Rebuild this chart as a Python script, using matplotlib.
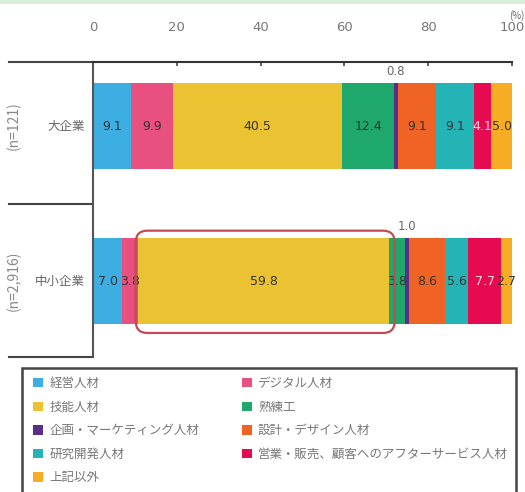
import matplotlib.pyplot as plt
from matplotlib.patches import FancyBboxPatch, Patch, Rectangle

plt.rcParams["font.family"] = ["Noto Sans CJK JP", "DejaVu Sans"]

categories = ["大企業", "中小企業"]
sample_sizes = ["(n=121)", "(n=2,916)"]
series_labels = [
    "経営人材",
    "デジタル人材",
    "技能人材",
    "熟練工",
    "企画・マーケティング人材",
    "設計・デザイン人材",
    "研究開発人材",
    "営業・販売、顧客へのアフターサービス人材",
    "上記以外",
]
large_values = [9.1, 9.9, 40.5, 12.4, 0.8, 9.1, 9.1, 4.1, 5.0]
small_values = [7.0, 3.8, 59.8, 3.8, 1.0, 8.6, 5.6, 7.7, 2.7]
x_ticks = [0, 20, 40, 60, 80, 100]

colors = ["#3DAEE2", "#E8507F", "#EBC332", "#1FA86C", "#5A2D87",
          "#EF6325", "#25B4B6", "#E60A50", "#F6AD24"]
label_colors = ["#333333"] * 7 + ["#FFD6E2", "#333333"]
outside_label = 4  # purple slice is too thin, its label sits above the bar

fig = plt.figure(figsize=(5.25, 4.92), dpi=100)
ax = fig.add_axes([93 / 525, 1 - 357 / 492, 419 / 525, 295 / 492])

bar_height = 0.56
rows = [large_values, small_values]
for row, values in enumerate(rows):
    left = 0
    for i, (value, color) in enumerate(zip(values, colors)):
        ax.barh(row, value, left=left, height=bar_height, color=color, linewidth=0)
        center = left + value / 2
        if i == outside_label:
            ax.text(center, row - bar_height / 2 - 0.03, f"{value:.1f}", ha="center",
                    va="bottom", fontsize=8.5, color="#666666",
                    family="DejaVu Sans")
        else:
            ax.text(center, row, f"{value:.1f}", ha="center", va="center",
                    fontsize=9, color=label_colors[i], family="DejaVu Sans")
        left += value

# highlight box round the 技能人材 slice of 中小企業
yellow_start = sum(small_values[:2])
aspect = (295 / 1.903) / (419 / 100)
ax.add_patch(FancyBboxPatch(
    (yellow_start - 0.6, 1 - bar_height / 2 - 0.045),
    small_values[2] + 2.0, bar_height + 0.1,
    boxstyle="round,pad=0,rounding_size=2.8", mutation_aspect=1 / aspect,
    facecolor="none", edgecolor="#C44A56", linewidth=1.6, zorder=5))

ax.set_xlim(0, 100)
ax.set_ylim(1.49, -0.413)
ax.set_xticks(x_ticks)
ax.set_xticklabels([str(t) for t in x_ticks], family="DejaVu Sans")
ax.xaxis.tick_top()
ax.tick_params(axis="x", direction="in", length=3, width=1.2, pad=20,
               labelsize=9.5, colors="#444444", labelcolor="#777777")
ax.set_yticks([])
for side in ["right", "bottom"]:
    ax.spines[side].set_visible(False)
ax.spines["top"].set_color("#333333")
ax.spines["top"].set_linewidth(1.5)
ax.spines["left"].set_color("#555555")
ax.spines["left"].set_linewidth(1.5)

# group lines reaching out to the left of the axis
yt = ax.get_yaxis_transform()
for y in [-0.413, 0.5, 1.49]:
    ax.plot([-0.2, 0], [y, y], transform=yt, color="#444444", linewidth=1.5,
            clip_on=False)

for row, (name, n) in enumerate(zip(categories, sample_sizes)):
    ax.text(-0.02, row, name, transform=yt, ha="right", va="center",
            fontsize=9, color="#666666")
    ax.text(-0.19, row, n, transform=yt, ha="center", va="center",
            fontsize=10, color="#888888", rotation=90)

ax.text(1.0, 1 - 10 / 492, "(%)", transform=fig.transFigure, ha="right",
        va="top", fontsize=7, color="#666666")

order = [0, 2, 4, 6, 8, 1, 3, 5, 7]
handles = [Patch(facecolor=colors[i], edgecolor="none") for i in order]
labels = [series_labels[i] for i in order]
fig.legend(handles, labels, ncol=2, loc="upper left",
           bbox_to_anchor=(33 / 525, 1 - 377 / 492),
           fontsize=9, frameon=False,
           handlelength=0.8, handleheight=0.8, handletextpad=0.5,
           labelspacing=0.85, borderaxespad=0, borderpad=0,
           columnspacing=3.4, labelcolor="#777777")
# legend frame runs off the bottom of the picture
fig.add_artist(Rectangle((22 / 525, -0.02), 494 / 525, 1 - 368 / 492 + 0.02,
                         transform=fig.transFigure, facecolor="none",
                         edgecolor="#444444", linewidth=1.8))

fig.add_artist(Rectangle((0, 1 - 4 / 492), 1, 4 / 492, transform=fig.transFigure,
                         facecolor="#D8EDD6", edgecolor="none"))

fig.savefig("out.png", dpi=100)
plt.close(fig)
